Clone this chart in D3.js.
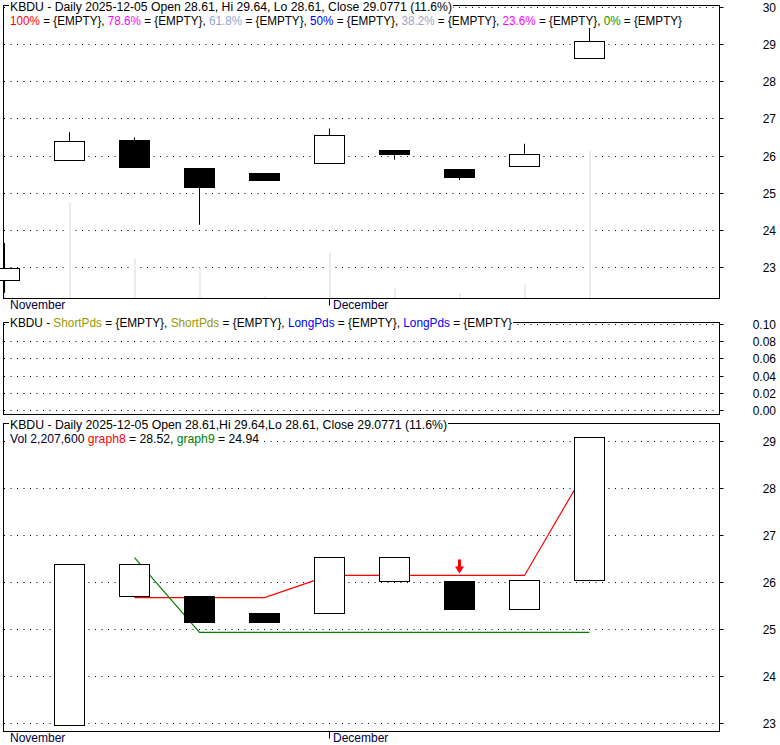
<!DOCTYPE html>
<html><head><meta charset="utf-8">
<script src="https://cdn.jsdelivr.net/npm/d3@7"></script>
<style>
body{margin:0;background:#fff}
text{font-family:"Liberation Sans",Arial,sans-serif;font-size:12px}
</style>
</head><body>
<svg id="c" width="780" height="745"></svg>
<script>
// ---- data ----
const dates = ["2025-11-21","2025-11-24","2025-11-25","2025-11-26","2025-11-28","2025-12-01","2025-12-02","2025-12-03","2025-12-04","2025-12-05"];
const open  = [22.66, 25.88, 26.42, 25.67, 25.53, 25.79, 26.15, 25.64, 25.73, 28.61];
const high  = [23.66, 26.64, 26.50, 25.67, 25.53, 26.74, 26.15, 25.64, 26.33, 29.64];
const low   = [22.32, 25.88, 25.70, 24.15, 25.33, 25.79, 25.90, 25.35, 25.73, 28.61];
const close = [22.96, 26.39, 25.70, 25.14, 25.34, 26.54, 26.03, 25.42, 26.04, 29.0771];
const volume = [500000, 1434000, 585000, 460000, 30000, 679000, 145000, 70000, 210000, 2207600];
const boxFilled = [null, false, false, true, true, false, false, true, false, false];
const graph8 = [null, null, 25.68, 25.68, 25.68, 26.15, 26.15, 26.15, 26.15, 28.52];
const graph9 = [null, null, 26.53, 24.94, 24.94, 24.94, 24.94, 24.94, 24.94, 24.94];
const sellSignals = [7];
const priceTicksTop = [23, 24, 25, 26, 27, 28, 29, 30];
const priceTicksBot = [23, 24, 25, 26, 27, 28, 29];
const midTicks = [0, 0.02, 0.04, 0.06, 0.08, 0.10];
const monthLabels = [{label: "November", index: null}, {label: "December", index: 5}];
const fibLabels = [["100%", "#ff0000"], ["78.6%", "#ff00ff"], ["61.8%", "#8ea6d6"], ["50%", "#0000ff"], ["38.2%", "#9aa4bf"], ["23.6%", "#ff00ff"], ["0%", "#009900"]];
const midLabels = [["ShortPds", "#999900"], ["ShortPds", "#999900"], ["LongPds", "#0000ff"], ["LongPds", "#0000ff"]];

// ---- layout ----
const svg = d3.select("#c");
const L = 3.5, R = 719.5;
const idx = d3.range(dates.length);
const x = d3.scaleLinear().domain([0, 9]).range([4.5, 589.5]);
const bodyW = 30;
const pTop = {y0: 5.5, y1: 298.5};
const pMid = {y0: 322.5, y1: 414.5};
const pBot = {y0: 423.5, y1: 731.5};
const yTop = d3.scaleLinear().domain([23, 29]).range([267.5, 44.5]);
const yMid = d3.scaleLinear().domain([0, 0.1]).range([410.5, 324.5]);
const yBot = d3.scaleLinear().domain([23, 29]).range([723.5, 441.5]);
const yVol = d3.scaleLinear().domain([0, d3.max(volume)]).range([298, 298 - 147]);
const snap = v => Math.round(v - 0.5) + 0.5;

function frame(p) {
  svg.append("rect").attr("x", L).attr("y", p.y0).attr("width", R - L).attr("height", p.y1 - p.y0)
    .attr("fill", "none").attr("stroke", "#000").attr("stroke-width", 1);
}
function grid(scale, ticks, fmt) {
  const g = svg.append("g");
  ticks.forEach(t => {
    const y = snap(scale(t));
    g.append("line").attr("x1", 4).attr("x2", R).attr("y1", y).attr("y2", y)
      .attr("stroke", "#000").attr("stroke-width", 1).attr("stroke-dasharray", "1,5.5");
    g.append("line").attr("x1", R).attr("x2", R + 4).attr("y1", y).attr("y2", y).attr("stroke", "#000");
    g.append("text").attr("x", 776).attr("y", y).attr("dy", "0.35em").attr("text-anchor", "end")
      .attr("fill", "#000").text(fmt(t));
  });
}
function header(xp, yb, parts, w) {
  const g = svg.append("g");
  const t = g.append("text").attr("x", xp).attr("y", yb);
  parts.forEach(p => t.append("tspan").attr("fill", p[1]).text(p[0]));
  if (w) t.attr("textLength", w).attr("lengthAdjust", "spacingAndGlyphs");
  const bb = t.node().getBBox();
  g.insert("rect", () => t.node()).attr("x", bb.x - 1).attr("y", bb.y).attr("width", bb.width + 2)
    .attr("height", bb.height).attr("fill", "#fff");
}
function months(yAxis, yText) {
  monthLabels.forEach(m => {
    if (m.index === null) {
      svg.append("text").attr("x", 10).attr("y", yText).attr("fill", "#000040").text(m.label);
    } else {
      const cx = snap(x(m.index) - 0.5);
      svg.append("line").attr("x1", cx).attr("x2", cx).attr("y1", yAxis).attr("y2", yAxis + 7).attr("stroke", "#000");
      svg.append("text").attr("x", cx + 3.5).attr("y", yText).attr("fill", "#000040").text(m.label);
    }
  });
}

// ===== TOP PANEL =====
frame(pTop);
grid(yTop, priceTicksTop, d => d3.format("d")(d));
svg.append("g").selectAll("rect").data(idx).join("rect")
  .attr("x", i => x(i) - 0.5).attr("width", 2)
  .attr("y", i => yVol(volume[i])).attr("height", i => 298 - yVol(volume[i]))
  .attr("fill", "#ebebeb");
const cg = svg.append("g");
idx.forEach(i => {
  const cx = x(i);
  cg.append("line").attr("x1", cx).attr("x2", cx).attr("y1", yTop(high[i])).attr("y2", yTop(low[i]))
    .attr("stroke", "#000");
  const yt = snap(yTop(Math.max(open[i], close[i]))), yb = snap(yTop(Math.min(open[i], close[i])));
  cg.append("rect").attr("x", cx - bodyW / 2).attr("y", yt).attr("width", bodyW).attr("height", Math.max(1, yb - yt))
    .attr("fill", close[i] >= open[i] ? "#fff" : "#000").attr("stroke", "#000");
});
header(10, 10.5, [["KBDU - Daily 2025-12-05 Open 28.61, Hi 29.64, Lo 28.61, Close 29.0771 (11.6%)", "#000"]], 442);
const fibParts = [];
fibLabels.forEach((f, k) => {
  fibParts.push([f[0], f[1]]);
  fibParts.push([" = {EMPTY}" + (k < fibLabels.length - 1 ? ", " : ""), "#000"]);
});
header(10, 25, fibParts, 672);
months(298.5, 309);

// ===== MIDDLE PANEL =====
frame(pMid);
grid(yMid, midTicks, d3.format(".2f"));
const midParts = [["KBDU - ", "#000"]];
midLabels.forEach((m, k) => {
  midParts.push([m[0], m[1]]);
  midParts.push([" = {EMPTY}" + (k < midLabels.length - 1 ? ", " : ""), "#000"]);
});
header(10, 326.5, midParts, 502);

// ===== BOTTOM PANEL =====
frame(pBot);
grid(yBot, priceTicksBot, d => d3.format("d")(d));
const lineGen = d3.line().defined(i => graph8[i] !== null).x(i => x(i)).y(i => yBot(graph8[i]));
svg.append("path").attr("d", lineGen(idx)).attr("fill", "none").attr("stroke", "#ff0000").attr("stroke-width", 1.2);
const lineGen9 = d3.line().defined(i => graph9[i] !== null).x(i => x(i)).y(i => yBot(graph9[i]));
svg.append("path").attr("d", lineGen9(idx)).attr("fill", "none").attr("stroke", "#008000").attr("stroke-width", 1.2);
const bg = svg.append("g");
idx.filter(i => i > 0).forEach(i => {
  const cx = x(i);
  const yt = snap(yBot(Math.max(close[i - 1], close[i]))), yb = snap(yBot(Math.min(close[i - 1], close[i])));
  bg.append("rect").attr("x", cx - bodyW / 2).attr("y", yt).attr("width", bodyW).attr("height", yb - yt)
    .attr("fill", boxFilled[i] ? "#000" : "#fff").attr("stroke", "#000");
});
sellSignals.forEach(i => {
  const cx = x(i), tip = yBot(graph8[i]) - 2;
  svg.append("rect").attr("x", cx - 1.5).attr("y", tip - 14).attr("width", 3).attr("height", 8).attr("fill", "#ff0000");
  svg.append("path").attr("d", `M${cx - 4.5},${tip - 7}L${cx + 4.5},${tip - 7}L${cx},${tip}Z`).attr("fill", "#ff0000");
});
header(10, 428.5, [["KBDU - Daily 2025-12-05 Open 28.61,Hi 29.64,Lo 28.61, Close 29.0771 (11.6%)", "#000"]], 437);
header(10, 442.7, [["Vol 2,207,600 ", "#000033"], ["graph8", "#ff0000"], [" = 28.52, ", "#000"], ["graph9", "#008000"], [" = 24.94", "#000"]], 249);
months(731.5, 742);
</script>
</body></html>
